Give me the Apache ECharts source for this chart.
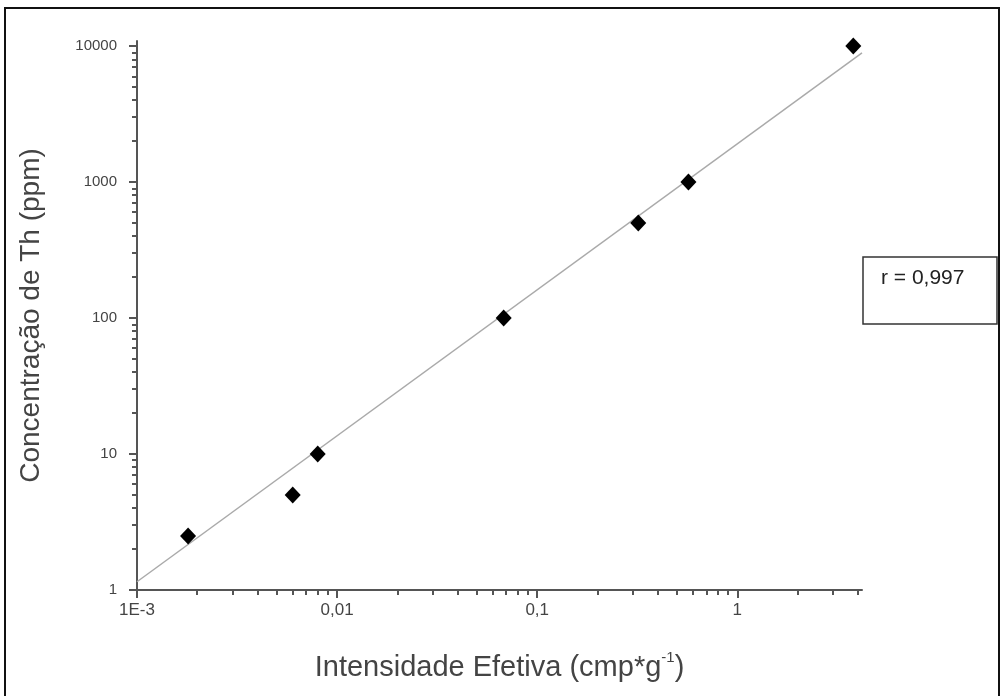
<!DOCTYPE html>
<html>
<head>
<meta charset="utf-8">
<script src="https://cdn.jsdelivr.net/npm/echarts@6/dist/echarts.min.js"></script>
<style>
html, body { margin: 0; padding: 0; background: #fff; }
#chart { width: 1003px; height: 696px; }
</style>
</head>
<body>
<div id="chart"></div>
<script>
// measured points (x = effective intensity, y = Th concentration)
const intensity = [0.0018, 0.006, 0.008, 0.068, 0.32, 0.57, 3.8]
const concentration = [2.5, 5, 10, 100, 500, 1000, 10000]
// fitted line, ends
const fitX = [0.001, 4.2]
const fitY = [1.15, 8900]

const xMajor = [0.001, 0.01, 0.1, 1]
const xLabels = ['1E-3', '0,01', '0,1', '1']
const xMinor = [0.002, 0.003, 0.004, 0.005, 0.006, 0.007, 0.008, 0.009,
  0.02, 0.03, 0.04, 0.05, 0.06, 0.07, 0.08, 0.09,
  0.2, 0.3, 0.4, 0.5, 0.6, 0.7, 0.8, 0.9, 2, 3, 4]
const yMajor = [1, 10, 100, 1000, 10000]
const yLabels = ['1', '10', '100', '1000', '10000']
const yMinor = [2, 3, 4, 5, 6, 7, 8, 9, 20, 30, 40, 50, 60, 70, 80, 90,
  200, 300, 400, 500, 600, 700, 800, 900, 2000, 3000, 4000, 5000, 6000, 7000, 8000, 9000]

const font = "'Liberation Sans', Arial, sans-serif"
const axisColor = '#555'
const textColor = '#444'

function pick(labels, v, offset) {
  const i = Math.round(Math.log10(v)) + offset
  return labels[i] !== undefined ? labels[i] : ''
}

const chart = echarts.init(document.getElementById('chart'))

const option = {
  animation: false,
  backgroundColor: '#fff',
  grid: { left: 137, right: 141, top: 41, bottom: 106 },
  xAxis: [
    {
      type: 'log',
      min: 0.001,
      max: 4.2,
      position: 'bottom',
      name: 'Intensidade Efetiva (cmp*g{sup|-1})',
      nameLocation: 'middle',
      nameGap: 60,
      nameTextStyle: {
        fontFamily: font, fontSize: 29, color: textColor, lineHeight: 36,
        rich: { sup: { fontFamily: font, fontSize: 15, color: textColor, verticalAlign: 'top', lineHeight: 18 } }
      },
      axisLine: { show: true, lineStyle: { color: axisColor, width: 2 } },
      axisTick: { show: true, length: 8, customValues: xMajor, lineStyle: { color: axisColor, width: 2 } },
      axisLabel: {
        customValues: xMajor,
        margin: 12,
        fontFamily: font, fontSize: 17, color: textColor,
        formatter: v => pick(xLabels, v, 3)
      },
      splitLine: { show: false }
    },
    {
      type: 'log',
      min: 0.001,
      max: 4.2,
      position: 'bottom',
      axisLine: { show: false },
      axisTick: { show: true, length: 5, customValues: xMinor, lineStyle: { color: axisColor, width: 2 } },
      axisLabel: { show: false },
      splitLine: { show: false }
    }
  ],
  yAxis: [
    {
      type: 'log',
      min: 1,
      max: 10900,
      position: 'left',
      name: 'Concentração de Th (ppm)',
      nameLocation: 'middle',
      nameGap: 92,
      nameTextStyle: { fontFamily: font, fontSize: 28, color: textColor },
      axisLine: { show: true, lineStyle: { color: axisColor, width: 2 } },
      axisTick: { show: true, length: 8, customValues: yMajor, lineStyle: { color: axisColor, width: 2 } },
      axisLabel: {
        customValues: yMajor,
        margin: 20,
        fontFamily: font, fontSize: 15, color: textColor,
        formatter: v => pick(yLabels, v, 0)
      },
      splitLine: { show: false }
    },
    {
      type: 'log',
      min: 1,
      max: 10900,
      position: 'left',
      axisLine: { show: false },
      axisTick: { show: true, length: 5, customValues: yMinor, lineStyle: { color: axisColor, width: 2 } },
      axisLabel: { show: false },
      splitLine: { show: false }
    }
  ],
  series: [
    {
      type: 'line',
      xAxisIndex: 0,
      yAxisIndex: 0,
      data: fitX.map((x, i) => [x, fitY[i]]),
      symbol: 'none',
      lineStyle: { color: '#aaa', width: 1.5 },
      silent: true,
      z: 1
    },
    {
      type: 'scatter',
      xAxisIndex: 0,
      yAxisIndex: 0,
      data: intensity.map((x, i) => [x, concentration[i]]),
      symbol: 'diamond',
      symbolSize: [16, 17],
      itemStyle: { color: '#000', opacity: 1 },
      z: 3
    }
  ],
  graphic: [
    {
      type: 'rect',
      shape: { x: 5, y: 8, width: 994, height: 700 },
      style: { fill: 'none', stroke: '#111', lineWidth: 2 },
      silent: true
    },
    {
      type: 'rect',
      shape: { x: 863, y: 257, width: 134, height: 67 },
      style: { fill: '#fff', stroke: '#333', lineWidth: 1.5 },
      silent: true
    },
    {
      type: 'text',
      left: 881,
      top: 268,
      style: { text: 'r = 0,997', font: "21px 'Liberation Sans', Arial, sans-serif", fill: '#222' },
      silent: true
    }
  ]
}

chart.setOption(option)
</script>
</body>
</html>
